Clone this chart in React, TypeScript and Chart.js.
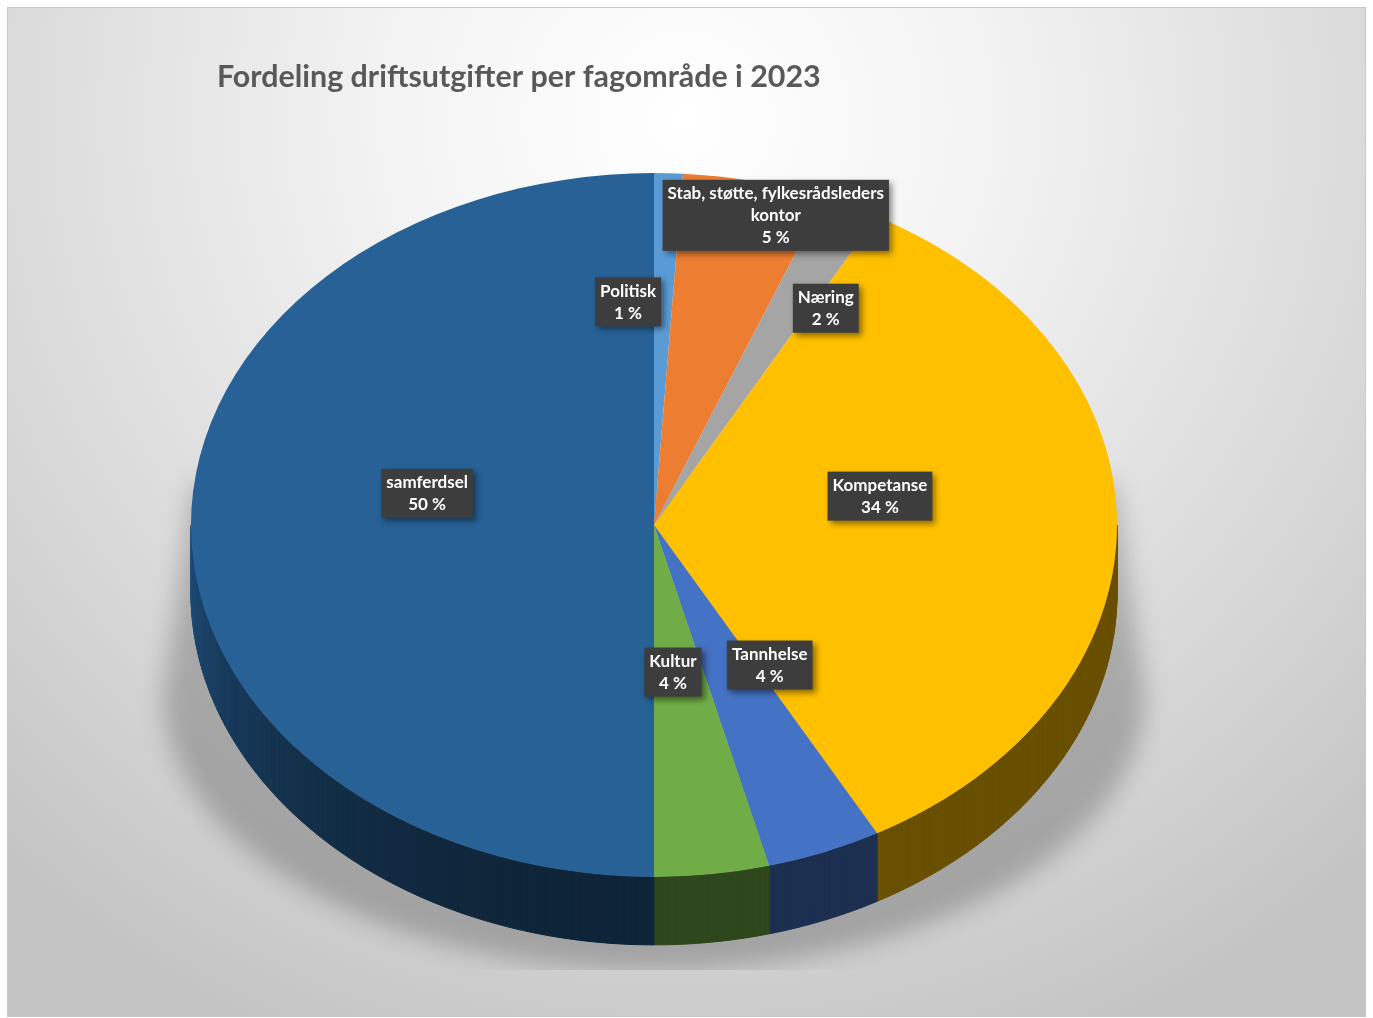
import React, { useEffect, useRef } from "react";
import { Chart, registerables } from "chart.js";

Chart.register(...registerables);

// ---- data ----
const categories = [
  "Politisk",
  "Stab, støtte, fylkesrådsleders kontor",
  "Næring",
  "Kompetanse",
  "Tannhelse",
  "Kultur",
  "samferdsel",
];
const values = [1, 5, 2, 34, 4, 4, 50];
const title = "Fordeling driftsutgifter per fagområde i 2023";

// ---- styles ----
const colors = ["#5B9BD5", "#ED7D31", "#A5A5A5", "#FFC000", "#4472C4", "#70AD47", "#276196"];
// label centres, as fractions of the ellipse radii from the pie centre
const labelAnchors: [number, number][] = [
  [-0.056, -0.634],
  [0.263, -0.88],
  [0.371, -0.616],
  [0.488, -0.082],
  [0.25, 0.398],
  [0.041, 0.418],
  [-0.49, -0.09],
];
const TILT = 0.76;
const DEPTH = 68;
const FONT = "Lato, 'Open Sans', sans-serif";

function hexToRgb(h: string) {
  const n = parseInt(h.slice(1), 16);
  return [(n >> 16) & 255, (n >> 8) & 255, n & 255];
}
function shade(h: string, f: number) {
  const [r, g, b] = hexToRgb(h);
  return `rgb(${Math.round(r * f)},${Math.round(g * f)},${Math.round(b * f)})`;
}
function sideFactor(a: number) {
  // a in [0, PI], 0 = right, PI/2 = bottom, PI = left
  if (a <= Math.PI / 2) return 0.41;
  const t = (a - Math.PI / 2) / (Math.PI / 2);
  return 0.37 + 0.42 * t * t;
}

const pie3d = {
  id: "pie3d",
  beforeDraw(chart: any) {
    const ctx = chart.ctx as CanvasRenderingContext2D;
    const W = chart.width, H = chart.height;
    ctx.save();
    ctx.fillStyle = "#ffffff";
    ctx.fillRect(0, 0, W, H);
    // panel background
    const g = ctx.createRadialGradient(686, 120, 0, 686, 120, 1000);
    g.addColorStop(0, "#ffffff");
    g.addColorStop(0.3, "#f3f3f3");
    g.addColorStop(0.75, "#d6d6d6");
    g.addColorStop(1, "#c4c4c4");
    ctx.fillStyle = g;
    ctx.fillRect(7, 7, 1359, 1010);
    ctx.strokeStyle = "#c8c8c8";
    ctx.lineWidth = 1;
    ctx.strokeRect(7.5, 7.5, 1358, 1009);

    // floor shadow
    const meta = chart.getDatasetMeta(0);
    const el = meta.data[0];
    if (el) {
      const cx = el.x, cy = el.y, R = el.outerRadius;
      ctx.save();
      ctx.beginPath();
      ctx.rect(7, 7, 1359, 970 - 7);
      ctx.clip();
      ctx.filter = "blur(12px)";
      ctx.fillStyle = "rgba(0,0,0,0.22)";
      ctx.beginPath();
      ctx.moveTo(cx - R + 2, cy - 40);
      ctx.lineTo(cx + R - 2, cy - 40);
      ctx.lineTo(cx + R + 28, cy + 170);
      ctx.ellipse(cx, cy + 170, R + 28, 275, 0, 0, Math.PI, false);
      ctx.closePath();
      ctx.fill();
      ctx.restore();
    }
    ctx.restore();
  },
  beforeDatasetsDraw(chart: any) {
    const ctx = chart.ctx as CanvasRenderingContext2D;
    const meta = chart.getDatasetMeta(0);
    ctx.save();
    meta.data.forEach((el: any, i: number) => {
      const cx = el.x, cy = el.y, R = el.outerRadius, ry = R * TILT;
      const s = el.startAngle, e = el.endAngle;
      const ranges: [number, number][] = [];
      for (const off of [0, 2 * Math.PI, -2 * Math.PI]) {
        const a0 = Math.max(s + off, 0), a1 = Math.min(e + off, Math.PI);
        if (a1 > a0) ranges.push([a0, a1]);
      }
      ranges.forEach(([a0, a1]) => {
        const steps = Math.max(2, Math.ceil((a1 - a0) / 0.01));
        for (let k = 0; k < steps; k++) {
          const b0 = a0 + ((a1 - a0) * k) / steps;
          const b1 = a0 + ((a1 - a0) * (k + 1)) / steps;
          const col = shade(colors[i], sideFactor((b0 + b1) / 2));
          ctx.fillStyle = col;
          ctx.strokeStyle = col;
          ctx.lineWidth = 1;
          ctx.beginPath();
          ctx.moveTo(cx + R * Math.cos(b0), cy + ry * Math.sin(b0));
          ctx.lineTo(cx + R * Math.cos(b1), cy + ry * Math.sin(b1));
          ctx.lineTo(cx + R * Math.cos(b1), cy + ry * Math.sin(b1) + DEPTH);
          ctx.lineTo(cx + R * Math.cos(b0), cy + ry * Math.sin(b0) + DEPTH);
          ctx.closePath();
          ctx.fill();
          ctx.stroke();
        }
      });
    });
    ctx.restore();
    // tilt the top face
    const el0 = meta.data[0];
    ctx.save();
    if (el0) {
      ctx.translate(el0.x, el0.y);
      ctx.scale(1, TILT);
      ctx.translate(-el0.x, -el0.y);
    }
  },
  afterDatasetsDraw(chart: any) {
    chart.ctx.restore();
  },
  afterDraw(chart: any) {
    const ctx = chart.ctx as CanvasRenderingContext2D;
    const meta = chart.getDatasetMeta(0);
    const total = values.reduce((a, b) => a + b, 0);
    ctx.save();
    // title
    let fs = 29;
    ctx.font = `bold ${fs}px ${FONT}`;
    const tw = ctx.measureText(title).width;
    fs = fs * (604 / tw);
    ctx.font = `bold ${fs}px ${FONT}`;
    ctx.fillStyle = "#595959";
    ctx.textBaseline = "middle";
    ctx.textAlign = "left";
    ctx.fillText(title, 217, 77);

    // labels
    ctx.font = `bold 17px ${FONT}`;
    meta.data.forEach((el: any, i: number) => {
      const R = el.outerRadius, ry = R * TILT;
      const [nx, ny] = labelAnchors[i];
      const x = el.x + nx * R, y = el.y + ny * ry;
      const words = categories[i].split(" ");
      const lines: string[] = [];
      let cur = "";
      words.forEach((w) => {
        const t = cur ? cur + " " + w : w;
        if (ctx.measureText(t).width > 235 && cur) {
          lines.push(cur);
          cur = w;
        } else cur = t;
      });
      if (cur) lines.push(cur);
      lines.push(Math.round((values[i] / total) * 100) + " %");
      const lh = 22;
      const w = Math.max(...lines.map((l) => ctx.measureText(l).width)) + 10;
      const h = lines.length * lh + 5;
      ctx.save();
      ctx.shadowColor = "rgba(0,0,0,0.45)";
      ctx.shadowBlur = 6;
      ctx.shadowOffsetX = 3;
      ctx.shadowOffsetY = 3;
      ctx.fillStyle = "#3d3d3d";
      ctx.fillRect(x - w / 2, y - h / 2, w, h);
      ctx.restore();
      ctx.fillStyle = "#ffffff";
      ctx.textAlign = "center";
      ctx.textBaseline = "middle";
      lines.forEach((l, k) => {
        ctx.fillText(l, x, y - h / 2 + 3 + lh / 2 + k * lh);
      });
    });
    ctx.restore();
  },
};

export default function App() {
  const ref = useRef<HTMLCanvasElement | null>(null);
  useEffect(() => {
    document.body.style.margin = "0";
    const canvas = ref.current;
    if (!canvas) return;
    const chart = new Chart(canvas, {
      type: "pie",
      data: {
        labels: categories,
        datasets: [
          {
            data: values,
            backgroundColor: colors,
            borderWidth: 0,
          },
        ],
      },
      options: {
        responsive: false,
        maintainAspectRatio: false,
        animation: false,
        layout: { padding: { left: 191, right: 256, top: 62, bottom: 30 } },
        plugins: {
          legend: { display: false },
          tooltip: { enabled: false },
          title: { display: false },
        },
      },
      plugins: [pie3d],
    });
    return () => chart.destroy();
  }, []);
  return (
    <div style={{ width: 1373, height: 1018 }}>
      <canvas ref={ref} width={1373} height={1018} style={{ display: "block" }} />
    </div>
  );
}
